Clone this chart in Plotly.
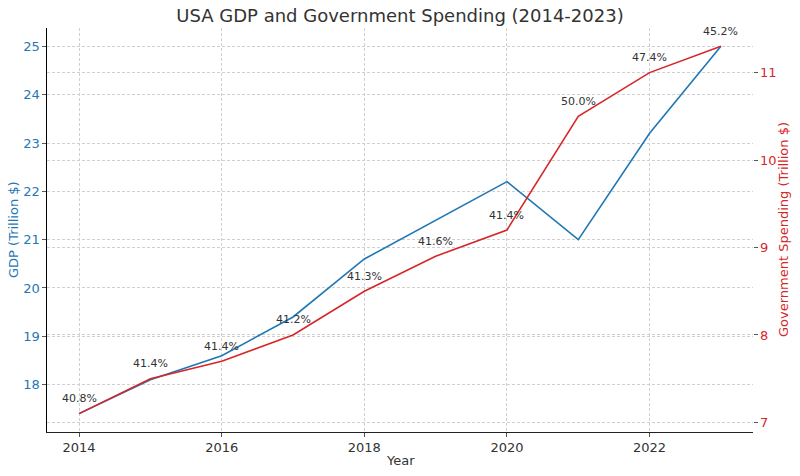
import plotly.graph_objects as go

years = [2014, 2015, 2016, 2017, 2018, 2019, 2020, 2021, 2022, 2023]
gdp = [17.4, 18.1, 18.6, 19.4, 20.6, 21.4, 22.2, 21.0, 23.2, 25.0]
spending = [7.1, 7.5, 7.7, 8.0, 8.5, 8.9, 9.2, 10.5, 11.0, 11.3]
pct_labels = ["40.8%", "41.4%", "41.4%", "41.2%", "41.3%", "41.6%", "41.4%", "50.0%", "47.4%", "45.2%"]
x_ticks = [2014, 2016, 2018, 2020, 2022]
gdp_ticks = [18, 19, 20, 21, 22, 23, 24, 25]
spend_ticks = [7, 8, 9, 10, 11]

BLUE = "#1f77b4"
RED = "#d62728"
TXT = "#333333"
GRID = "#d0d0d0"
DASH = "3px,2px"
FONT = "DejaVu Sans"

fig = go.Figure()
fig.add_trace(go.Scatter(x=years, y=gdp, mode="lines", line=dict(color=BLUE, width=1.6),
                         name="GDP", yaxis="y"))
fig.add_trace(go.Scatter(x=years, y=spending, mode="lines", line=dict(color=RED, width=1.6),
                         name="Government Spending", yaxis="y2"))

for x, y, t in zip(years, spending, pct_labels):
    fig.add_annotation(x=x, y=y, xref="x", yref="y2", text=t, showarrow=False,
                       yshift=15, font=dict(family=FONT, size=11, color=TXT))

# axis titles
fig.add_annotation(x=0, y=0.5, xref="paper", yref="paper", text="GDP (Trillion $)",
                   textangle=-90, showarrow=False, xshift=-34, xanchor="center", yanchor="middle",
                   font=dict(family=FONT, size=13, color=BLUE))
fig.add_annotation(x=1, y=0.5, xref="paper", yref="paper", text="Government Spending (Trillion $)",
                   textangle=-90, showarrow=False, xshift=30, xanchor="center", yanchor="middle",
                   font=dict(family=FONT, size=13, color=RED))
fig.add_annotation(x=0.5, y=0, xref="paper", yref="paper", text="Year",
                   showarrow=False, yshift=-28, xanchor="center", yanchor="middle",
                   font=dict(family=FONT, size=13, color=TXT))

fig.update_layout(
    width=800, height=476,
    margin=dict(l=47, r=47, t=28, b=44),
    paper_bgcolor="white", plot_bgcolor="white",
    showlegend=False,
    font=dict(family=FONT, color=TXT),
    title=dict(text="USA GDP and Government Spending (2014-2023)", x=0.5, xanchor="center",
               y=1 - 16 / 476, yanchor="middle", font=dict(family=FONT, size=18, color=TXT)),
    xaxis=dict(range=[2013.55, 2023.45], tickvals=x_ticks, showgrid=True, gridcolor=GRID,
               griddash=DASH, gridwidth=0.8, zeroline=False, showline=True, linecolor="#222",
               linewidth=1.2, ticks="outside", ticklen=3.5, tickcolor="#555", automargin=False,
               tickfont=dict(size=13, color=TXT)),
    yaxis=dict(range=[17.02, 25.38], tickvals=gdp_ticks, showgrid=True, gridcolor=GRID,
               griddash=DASH, gridwidth=0.8, zeroline=False, showline=True, linecolor="black",
               linewidth=1.2, ticks="outside", ticklen=3.5, tickcolor="#555", automargin=False,
               tickfont=dict(size=13, color=BLUE)),
    yaxis2=dict(range=[6.89, 11.51], tickvals=spend_ticks, overlaying="y", side="right",
                showgrid=True, gridcolor=GRID, griddash=DASH, gridwidth=0.8, zeroline=False,
                showline=False, ticks="outside", ticklen=3.5, tickcolor="#555", automargin=False,
                tickfont=dict(size=13, color=RED)),
)

fig.write_html("out.html", config={"displayModeBar": False},
               post_script="document.body.style.margin='0';document.body.style.padding='0';")
